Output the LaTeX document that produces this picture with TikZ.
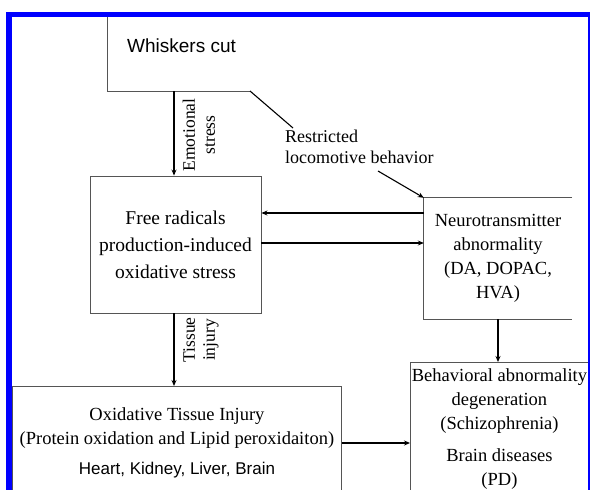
\documentclass[tikz,border=0pt]{standalone}
\usepackage{fontspec}
\setmainfont{Liberation Serif}
\setsansfont{Liberation Sans}
\usetikzlibrary{arrows.meta,positioning}
\definecolor{frameblue}{RGB}{0,0,255}
\definecolor{edgegray}{RGB}{85,85,85}

\begin{document}
\begin{tikzpicture}[x=1pt, y=-1pt, >={Stealth[length=6pt,width=5pt]},
  box/.style={rectangle, draw=edgegray, line width=0.9pt, align=center, inner sep=0pt},
  serif/.style={font=\fontsize{18.5}{24}\selectfont},
  lbl/.style={font=\fontsize{17.5}{20}\selectfont, align=center, rotate=90, inner sep=0pt},
  arr/.style={->, line width=1.1pt},
  harr/.style={->, line width=1.8pt}]
  \useasboundingbox (0,0) rectangle (590,490);
  \fill[white] (0,0) rectangle (590,490);
  % whiskers cut
  \node[anchor=west, inner sep=0pt, font=\sffamily\fontsize{19}{22}\selectfont] (whisk) at (127,46) {Whiskers cut};
  \coordinate (wcorner) at (250,91);
  \draw[edgegray, line width=0.9pt] (107,17) -- (107,91) -- (wcorner);
  \node[anchor=west, align=left, inner sep=0pt, font=\fontsize{18}{21}\selectfont] (restr) at (285,147) {Restricted\\locomotive behavior};
  \coordinate (rtail) at (378,171);
  \draw[line width=1.1pt] (wcorner) -- (293,128);
  % main boxes
  \node[box, minimum width=171pt, minimum height=137pt, font=\fontsize{19.5}{27}\selectfont] (fr) at (175.5,244.5) {Free radicals\\production-induced\\oxidative stress};
  \node[serif, align=center, inner sep=0pt, minimum width=148pt, minimum height=121pt] (nt) at (498,258.5) {Neurotransmitter\\abnormality\\(DA, DOPAC,\\HVA)};
  \draw[edgegray, line width=0.9pt] (nt.north east) -- (nt.north west) -- (nt.south west) -- (nt.south east);
  \node[box, serif, minimum width=329pt, minimum height=112pt, anchor=north west] (ox) at (12,386) {Oxidative Tissue Injury\\(Protein oxidation and Lipid peroxidaiton)\\[6pt]{\sffamily\fontsize{17}{20}\selectfont Heart, Kidney, Liver, Brain}};
  \node[box, serif, minimum width=178pt, minimum height=134pt, anchor=north west] (beh) at (410,362) {Behavioral abnormality\\degeneration\\(Schizophrenia)\\[8pt]Brain diseases\\(PD)};
  % labels on the vertical arrows
  \node[lbl] (emo) at (199,135) {Emotional\\stress};
  \node[lbl] (tis) at (201,340) {Tissue\\injury};
  % connectors
  \draw[arr] (174,91) -- (fr.north -| 174,0);
  \draw[arr] (rtail) -- (nt.north west);
  \draw[harr] ([yshift=45.5pt]nt.west) -- ([yshift=45.5pt]nt.west -| fr.east);
  \draw[harr] ([yshift=1.5pt]fr.east) -- ([yshift=1.5pt]fr.east -| nt.west);
  \draw[harr] (nt.south) -- (nt.south |- beh.north);
  \draw[arr] (fr.south -| 174,0) -- (ox.north -| 174,0);
  \draw[harr] (ox.east |- 0,443) -- (beh.west |- 0,443);
  % blue frame
  \fill[frameblue] (6,12) rectangle (590,17);
  \fill[frameblue] (6,12) rectangle (12,490);
  \fill[frameblue] (587.5,12) rectangle (589.5,490);
\end{tikzpicture}
\end{document}
